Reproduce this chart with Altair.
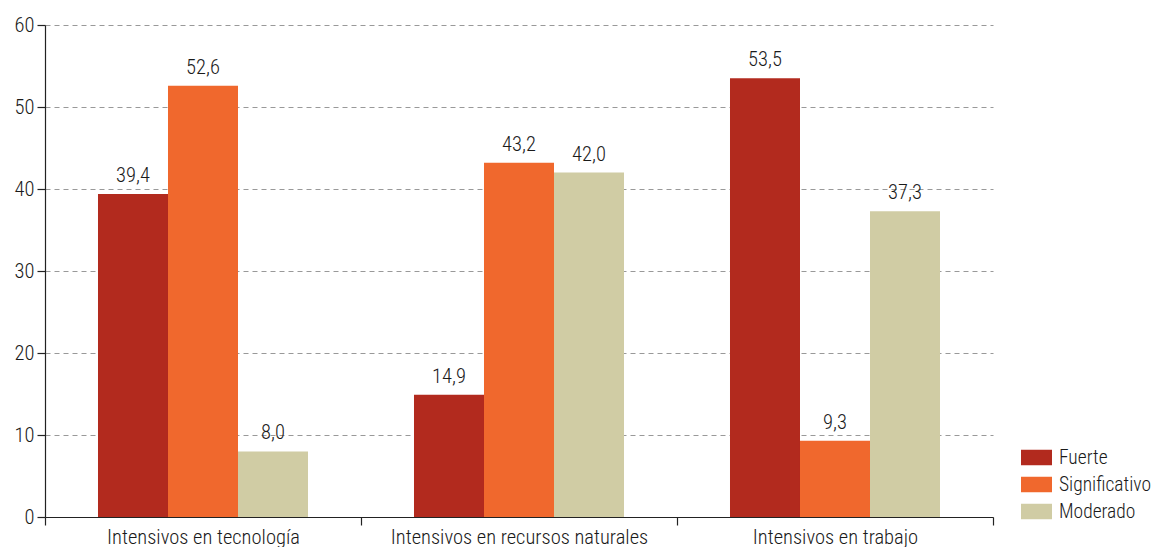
import altair as alt
import pandas as pd

categories = ["Intensivos en tecnología", "Intensivos en recursos naturales", "Intensivos en trabajo"]
series = ["Fuerte", "Significativo", "Moderado"]
fuerte = [39.4, 14.9, 53.5]
significativo = [52.6, 43.2, 9.3]
moderado = [8.0, 42.0, 37.3]
colors = ["#B22A1E", "#F0682D", "#D0CCA4"]
y_ticks = [0, 10, 20, 30, 40, 50, 60]

rows = []
for i, c in enumerate(categories):
    for s, vals in zip(series, [fuerte, significativo, moderado]):
        v = vals[i]
        rows.append({"cat": c, "serie": s, "valor": v, "label": f"{v:.1f}".replace(".", ",")})
df = pd.DataFrame(rows)

FONT = "Roboto Condensed"
FS = 20.5
FW = 300

base = alt.Chart(df).encode(
    x=alt.X("cat:N", sort=categories, title=None,
            scale=alt.Scale(paddingInner=0, paddingOuter=0),
            axis=alt.Axis(labelAngle=0, tickBand="extent", domainColor="#222",
                          tickColor="#222", tickSize=8, labelFontSize=FS,
                          labelColor="#1a1a1a", labelPadding=2, labelFont=FONT,
                          labelFontWeight=FW, labelLimit=0,
                          domainWidth=1.2, tickWidth=1.2)),
    xOffset=alt.XOffset("serie:N", sort=series,
                        scale=alt.Scale(paddingInner=0, paddingOuter=0.757)),
    y=alt.Y("valor:Q", title=None,
            scale=alt.Scale(domain=[0, 60], nice=False),
            axis=alt.Axis(values=y_ticks, grid=True, gridDash=[5, 4], gridColor="#999",
                          gridWidth=1, domainColor="#222", tickColor="#222", tickSize=8,
                          labelFontSize=FS, labelColor="#1a1a1a", labelPadding=3,
                          labelFont=FONT, labelFontWeight=FW,
                          domainWidth=1.2, tickWidth=1.2)),
)

bars = base.mark_bar().encode(
    color=alt.Color("serie:N", sort=series,
                    scale=alt.Scale(domain=series, range=colors),
                    legend=alt.Legend(title=None, orient="none", legendX=976, legendY=417,
                                      symbolType="M-1,-0.5H1V0.5H-1Z", symbolSize=961,
                                      symbolStrokeWidth=0, symbolOpacity=1,
                                      labelFontSize=19.5, labelFont=FONT, labelColor="#1a1a1a",
                                      labelFontWeight=FW, labelLimit=0,
                                      labelOffset=7, rowPadding=2))
)

text = base.mark_text(baseline="bottom", dy=-8, fontSize=FS, font=FONT,
                      fontWeight=FW, color="#1a1a1a").encode(
    text="label:N"
)

chart = (bars + text).properties(
    width=948, height=492,
    autosize=alt.AutoSizeParams(type="none"),
    padding={"left": 37, "top": 17, "right": 158, "bottom": 30},
).configure_view(stroke=None)

chart.save("out.html", embed_options={"renderer": "svg", "actions": False})
